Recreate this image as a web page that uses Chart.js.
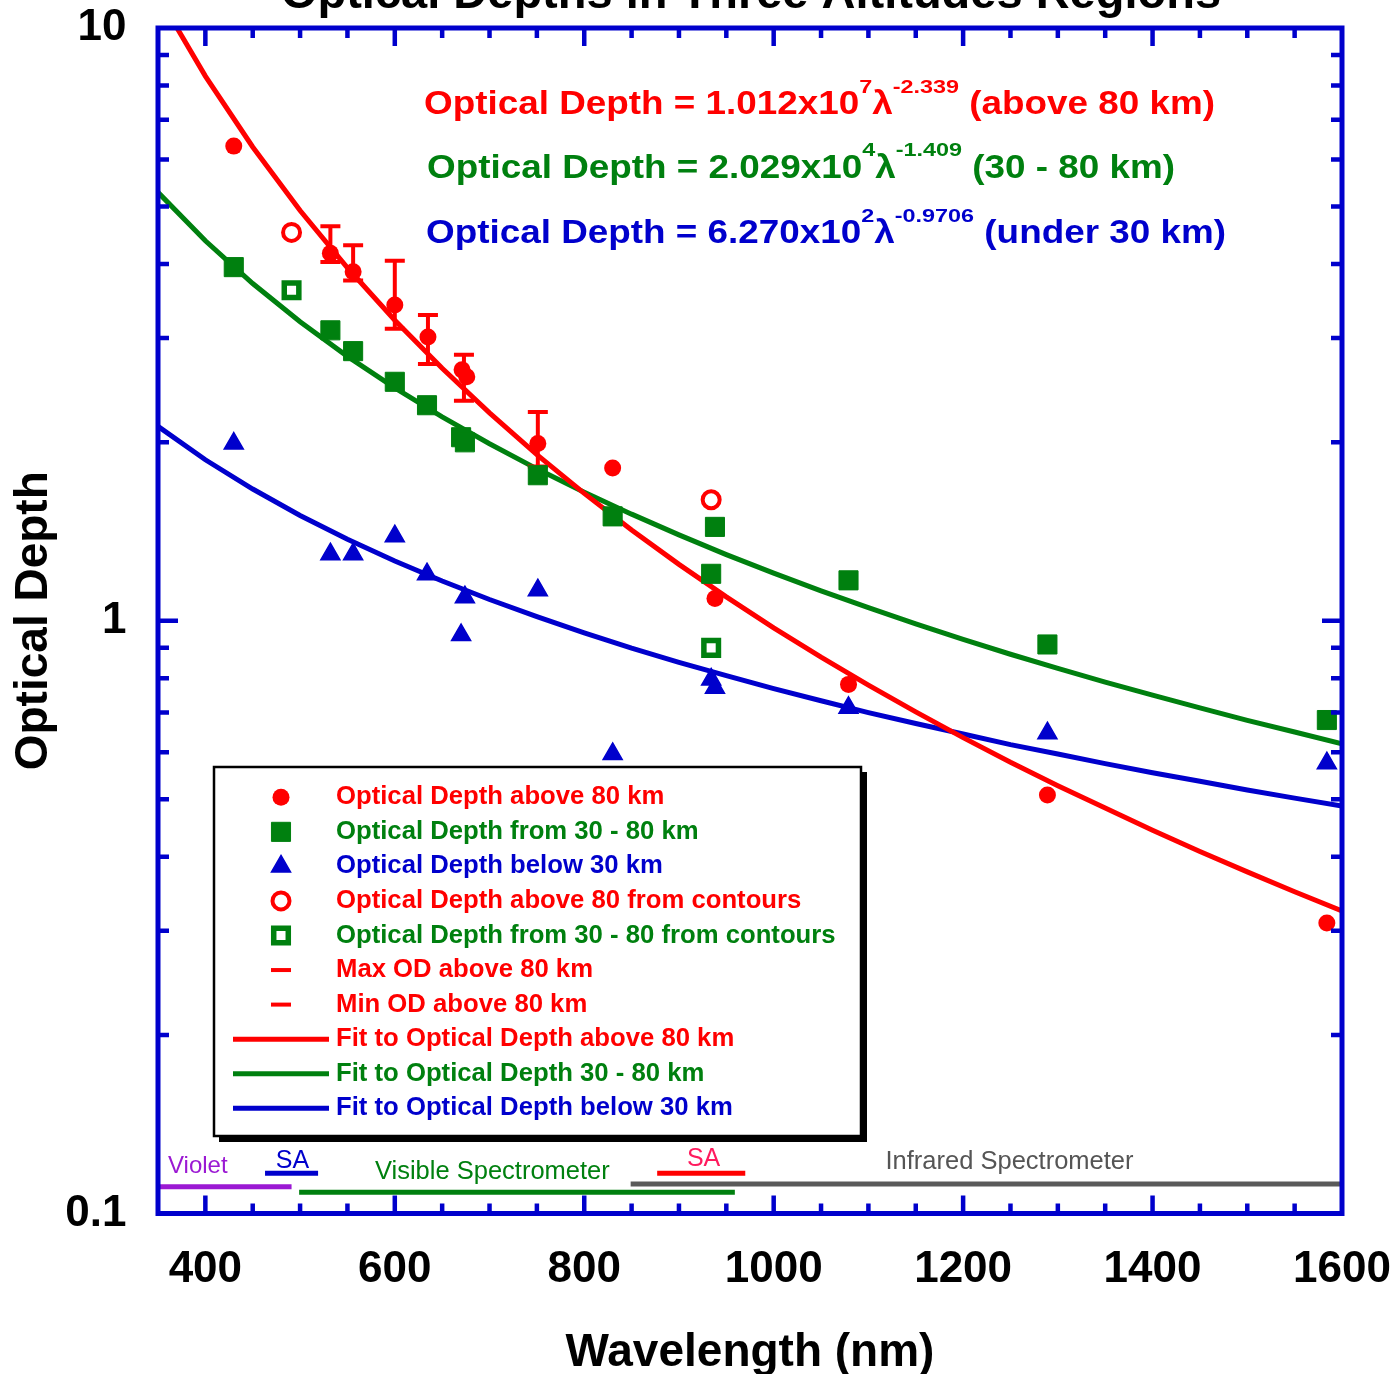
<!DOCTYPE html>
<html>
<head>
<meta charset="utf-8">
<script src="https://cdn.jsdelivr.net/npm/chart.js@4.4.1/dist/chart.umd.min.js"></script>
<style>
  html, body { margin: 0; padding: 0; background: #fff; }
</style>
</head>
<body>
<canvas id="odChart" width="1399" height="1374"></canvas>
<script>
// measured optical depths, wavelength in nm
const above80X = [430, 532, 556, 600, 635, 671, 676, 751, 830, 938, 1079, 1289, 1584];
const above80Y = [6.32, 4.17, 3.88, 3.41, 3.01, 2.65, 2.58, 1.99, 1.81, 1.09, 0.781, 0.508, 0.309];

const mid3080X = [430, 532, 556, 600, 634, 670, 674, 751, 830, 938, 934, 1079, 1289, 1584];
const mid3080Y = [3.95, 3.09, 2.85, 2.53, 2.31, 2.04, 2.00, 1.76, 1.50, 1.44, 1.20, 1.17, 0.912, 0.680];

const below30X = [430, 532, 556, 600, 634, 670, 674, 751, 830, 934, 938, 1079, 1289, 1584];
const below30Y = [1.99, 1.295, 1.295, 1.389, 1.198, 0.946, 1.096, 1.126, 0.596, 0.796, 0.771, 0.713, 0.646, 0.575];

// values
const contourAboveX = [491, 934];
const contourAboveY = [4.52, 1.60];
const contourMidX = [491, 934];
const contourMidY = [3.61, 0.900];

// max / min OD above 80 km (error bars)
const errX = [532, 556, 600, 635, 673, 751];
const errMax = [4.63, 4.30, 4.05, 3.28, 2.81, 2.25];
const errMin = [4.03, 3.75, 3.11, 2.71, 2.35, 1.82];

// power-law fits as drawn
const fitX = [350, 400, 450, 500, 550, 600, 650, 700, 750, 800, 850, 900, 950,
              1000, 1050, 1100, 1150, 1200, 1250, 1300, 1350, 1400, 1450, 1500, 1550, 1600];
const fitAbove = [11.34, 8.297, 6.300, 4.922, 3.940, 3.214, 2.666, 2.242, 1.907, 1.640, 1.423, 1.245, 1.097,
                  0.973, 0.868, 0.779, 0.702, 0.635, 0.577, 0.527, 0.483, 0.443, 0.408, 0.377, 0.349, 0.324];
const fitMid = [5.281, 4.375, 3.706, 3.194, 2.793, 2.471, 2.208, 1.989, 1.804, 1.648, 1.513, 1.396, 1.293,
                1.203, 1.123, 1.052, 0.988, 0.930, 0.878, 0.831, 0.788, 0.749, 0.713, 0.679, 0.649, 0.620];
const fitBelow = [2.128, 1.869, 1.668, 1.505, 1.372, 1.261, 1.167, 1.086, 1.016, 0.954, 0.899, 0.851, 0.808,
                  0.768, 0.733, 0.700, 0.671, 0.644, 0.618, 0.596, 0.574, 0.554, 0.536, 0.518, 0.502, 0.487];

// instrument coverage bars along the bottom
const instNames = ['Violet', 'SA', 'Visible Spectrometer', 'SA', 'Infrared Spectrometer'];
const instStart = [350, 463, 499, 877, 849];
const instEnd = [491, 519, 959, 970, 1600];
const instLevel = [0.1110, 0.1169, 0.1086, 0.1169, 0.1121];
const instLabelX = [392, 492, 703, 926, 1249];
const instLabelY = [0.1170, 0.1193, 0.1143, 0.1202, 0.1189];

const xTickLabels = [400, 600, 800, 1000, 1200, 1400, 1600];
const yTickLabels = [0.1, 1, 10];

const RED = '#ff0000', GREEN = '#00800f', BLUE = '#0000cc';
const instColors = ['#9b19d3', BLUE, GREEN, RED, '#5a5a5a'];
const instTextColors = ['#9b19d3', BLUE, GREEN, '#ff1b5e', '#555555'];
const instFontSize = [24, 25, 25.5, 25, 25.5];
const FONT = "'Liberation Sans', Arial, Helvetica, sans-serif";

Chart.defaults.font.family = FONT;

const pts = (xs, ys) => xs.map((x, i) => ({ x: x, y: ys[i] }));

const stems = [];
errX.forEach((x, i) => {
  stems.push({ x: x, y: errMin[i] }, { x: x, y: errMax[i] }, { x: x, y: null });
});

const fitLine = (label, ys, color) => ({
  label: label, data: pts(fitX, ys), showLine: true, borderColor: color,
  borderWidth: 5, pointRadius: 0, clip: 0, order: 20
});

const datasets = [
  { label: 'Optical Depth above 80 km', data: pts(above80X, above80Y), pointStyle: 'circle',
    pointRadius: 8.5, backgroundColor: RED, borderColor: RED, pointBorderWidth: 0, order: 1 },
  { label: 'Optical Depth from 30 - 80 km', data: pts(mid3080X, mid3080Y), pointStyle: 'rect',
    pointRadius: 13.5, backgroundColor: GREEN, borderColor: GREEN, pointBorderWidth: 1, order: 2 },
  { label: 'Optical Depth below 30 km', data: pts(below30X, below30Y), pointStyle: 'triangle',
    pointRadius: 11, backgroundColor: BLUE, borderColor: BLUE, pointBorderWidth: 1.5, order: 3 },
  { label: 'Optical Depth above 80 from contours', data: pts(contourAboveX, contourAboveY), pointStyle: 'circle',
    pointRadius: 8.5, backgroundColor: '#fff', borderColor: RED, pointBorderWidth: 4, order: 1 },
  { label: 'Optical Depth from 30 - 80 from contours', data: pts(contourMidX, contourMidY), pointStyle: 'rect',
    pointRadius: 10.3, backgroundColor: '#fff', borderColor: GREEN, pointBorderWidth: 5.5, order: 1 },
  { label: 'Max OD above 80 km', data: pts(errX, errMax), pointStyle: 'line',
    pointRadius: 10, borderColor: RED, pointBorderWidth: 4, order: 4 },
  { label: 'Min OD above 80 km', data: pts(errX, errMin), pointStyle: 'line',
    pointRadius: 10, borderColor: RED, pointBorderWidth: 4, order: 4 },
  fitLine('Fit to Optical Depth above 80 km', fitAbove, RED),
  fitLine('Fit to Optical Depth 30 - 80 km', fitMid, GREEN),
  fitLine('Fit to Optical Depth below 30 km', fitBelow, BLUE),
  { label: 'errStems', data: stems, showLine: true, spanGaps: false, borderColor: RED,
    borderWidth: 4, pointRadius: 0, order: 5 }
];

instNames.forEach((name, i) => {
  datasets.push({
    label: 'inst ' + name, data: [{ x: instStart[i], y: instLevel[i] }, { x: instEnd[i], y: instLevel[i] }],
    showLine: true, borderColor: instColors[i], borderWidth: 5, pointRadius: 0, clip: 0, order: 30
  });
});

// blue frame with inward ticks on all four sides
const frameTicks = {
  id: 'frameTicks',
  afterDatasetsDraw(chart) {
    const { ctx, chartArea: a, scales: { x, y } } = chart;
    ctx.save();
    ctx.strokeStyle = BLUE;
    ctx.lineWidth = 4.5;
    ctx.beginPath();
    for (let v = 400; v < 1600; v += 50) {
      const px = x.getPixelForValue(v);
      const len = v % 200 === 0 ? 18 : 10;
      ctx.moveTo(px, a.bottom); ctx.lineTo(px, a.bottom - len);
      ctx.moveTo(px, a.top); ctx.lineTo(px, a.top + len);
    }
    [0.1, 1].forEach(d => {
      for (let m = 1; m <= 9; m++) {
        const py = y.getPixelForValue(d * m);
        const len = m === 1 ? 20 : 11;
        ctx.moveTo(a.left, py); ctx.lineTo(a.left + len, py);
        ctx.moveTo(a.right, py); ctx.lineTo(a.right - len, py);
      }
    });
    ctx.stroke();
    ctx.lineWidth = 5;
    ctx.strokeRect(a.left, a.top, a.right - a.left, a.bottom - a.top);
    ctx.restore();
  }
};

function drawEquation(ctx, x, baseline, color, parts) {
  ctx.save();
  ctx.fillStyle = color;
  ctx.textBaseline = 'alphabetic';
  ctx.textAlign = 'left';
  let cx = x;
  parts.forEach(p => {
    const sup = p.sup;
    ctx.font = 'bold ' + (sup ? 18 : 33.5) + 'px ' + FONT;
    const sx = sup ? 1.3 : 1.1;
    ctx.save();
    ctx.translate(cx, baseline + (sup ? -21.5 : 0));
    ctx.scale(sx, 1);
    ctx.fillText(p.t, 0, 0);
    ctx.restore();
    cx += ctx.measureText(p.t).width * sx;
  });
  ctx.restore();
}

const annotations = {
  id: 'annotations',
  afterDraw(chart) {
    const { ctx, chartArea: a, scales: { x, y } } = chart;
    ctx.save();

    // title, mostly cut off at the top of the page
    ctx.fillStyle = '#000';
    ctx.font = 'bold 47px ' + FONT;
    ctx.textAlign = 'center';
    ctx.textBaseline = 'alphabetic';
    ctx.fillText('Optical Depths in Three Altitudes Regions', (a.left + a.right) / 2 + 1, 8);

    // fit equations
    drawEquation(ctx, 424, 114, RED, [
      { t: 'Optical Depth = 1.012x10' }, { t: '7', sup: true }, { t: 'λ' },
      { t: '-2.339', sup: true }, { t: ' (above 80 km)' }]);
    drawEquation(ctx, 427, 177.5, GREEN, [
      { t: 'Optical Depth = 2.029x10' }, { t: '4', sup: true }, { t: 'λ' },
      { t: '-1.409', sup: true }, { t: ' (30 - 80 km)' }]);
    drawEquation(ctx, 426, 243, BLUE, [
      { t: 'Optical Depth = 6.270x10' }, { t: '2', sup: true }, { t: 'λ' },
      { t: '-0.9706', sup: true }, { t: ' (under 30 km)' }]);

    // instrument labels
    ctx.textAlign = 'center';
    instNames.forEach((name, i) => {
      ctx.font = instFontSize[i] + 'px ' + FONT;
      ctx.fillStyle = instTextColors[i];
      ctx.fillText(name, x.getPixelForValue(instLabelX[i]), y.getPixelForValue(instLabelY[i]));
    });

    // legend box with drop shadow
    const bx = 214, by = 767, bw = 647, bh = 369;
    ctx.fillStyle = '#000';
    ctx.fillRect(bx + 5, by + 5, bw + 1, bh + 1);
    ctx.fillStyle = '#fff';
    ctx.fillRect(bx, by, bw, bh);
    ctx.strokeStyle = '#000';
    ctx.lineWidth = 2.5;
    ctx.strokeRect(bx, by, bw, bh);

    ctx.textAlign = 'left';
    ctx.textBaseline = 'middle';
    ctx.font = 'bold 25.7px ' + FONT;
    chart.data.datasets.slice(0, 10).forEach((ds, i) => {
      const ry = 797.3 + i * 34.55;
      const color = ds.borderColor;
      ctx.fillStyle = ds.backgroundColor || color;
      ctx.strokeStyle = color;
      if (ds.showLine) {
        ctx.lineWidth = 5;
        ctx.beginPath();
        ctx.moveTo(233, ry); ctx.lineTo(329, ry);
        ctx.stroke();
      } else {
        ctx.lineWidth = ds.pointBorderWidth;
        Chart.helpers.drawPoint(ctx, {
          pointStyle: ds.pointStyle, radius: ds.pointRadius, rotation: 0,
          borderWidth: ds.pointBorderWidth
        }, 281, ry);
      }
      ctx.fillStyle = color;
      ctx.fillText(ds.label, 336, ry);
    });
    ctx.restore();
  }
};

// keep the plot box fixed: no extra room for overhanging tick labels
const noPadding = s => { s.paddingTop = 0; s.paddingBottom = 0; s.paddingLeft = 0; s.paddingRight = 0; };

new Chart(document.getElementById('odChart'), {
  type: 'scatter',
  data: { datasets: datasets },
  options: {
    responsive: false,
    animation: false,
    events: [],
    layout: { padding: { top: 28, right: 57, bottom: 0, left: 0 } },
    plugins: { legend: { display: false }, tooltip: { enabled: false } },
    scales: {
      x: {
        type: 'linear', min: 350, max: 1600,
        afterFit: s => { s.height = 160.5; noPadding(s); },
        afterBuildTicks: s => { s.ticks = xTickLabels.map(v => ({ value: v })); },
        grid: { display: false, drawTicks: false },
        border: { display: false },
        ticks: { color: '#000', font: { size: 44, weight: 'bold' }, padding: 30, maxRotation: 0, autoSkip: false,
                 callback: v => String(v) },
        title: { display: true, text: 'Wavelength (nm)', color: '#000',
                 font: { size: 46, weight: 'bold', lineHeight: 0.9 }, padding: { top: 0, bottom: 0 } }
      },
      y: {
        type: 'logarithmic', min: 0.1, max: 10,
        afterFit: s => { s.width = 158; noPadding(s); },
        afterBuildTicks: s => { s.ticks = yTickLabels.map(v => ({ value: v })); },
        grid: { display: false, drawTicks: false },
        border: { display: false },
        ticks: { color: '#000', font: { size: 44, weight: 'bold' }, padding: 31.5, autoSkip: false,
                 callback: v => String(v) },
        title: { display: true, text: 'Optical Depth', color: '#000',
                 font: { size: 46, weight: 'bold', lineHeight: 1 }, padding: { top: 11, bottom: 0 } }
      }
    }
  },
  plugins: [frameTicks, annotations]
});
</script>
</body>
</html>
